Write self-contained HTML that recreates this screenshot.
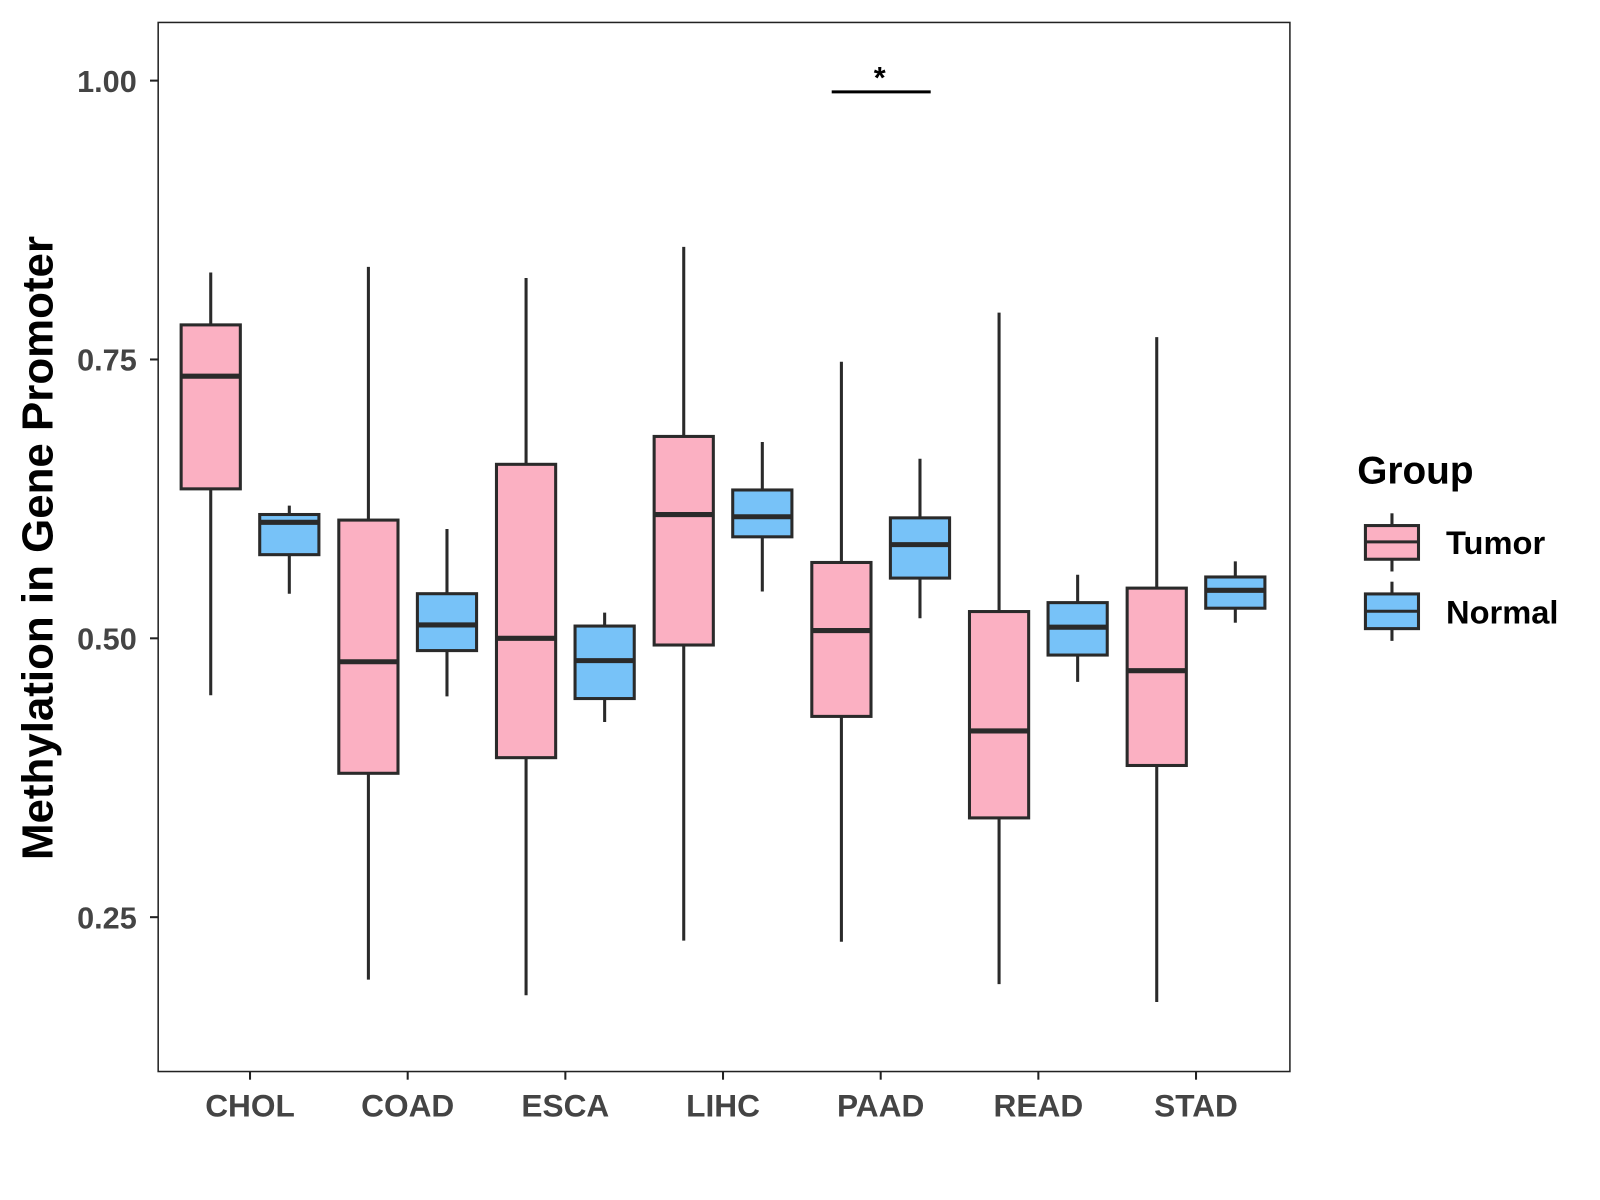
<!DOCTYPE html>
<html><head><meta charset="utf-8"><style>
html,body{margin:0;padding:0;background:#fff;width:1600px;height:1200px;overflow:hidden}
svg text{font-family:"Liberation Sans",Arial,sans-serif;font-weight:bold}
</style></head><body>
<svg id="chart" width="1600" height="1200" xmlns="http://www.w3.org/2000/svg">
<g transform="scale(1.0205)">
<rect x="155" y="22" width="1109" height="1028" fill="#fff" stroke="#222" stroke-width="1.5"/>
<g id="marks"></g>
<g id="axes"></g>
<text x="40" y="537" font-size="43" fill="#000" text-anchor="middle" transform="rotate(-90 40 537)" dominant-baseline="middle">Methylation in Gene Promoter</text>
<g>
<line x1="815" y1="90" x2="912" y2="90" stroke="#000" stroke-width="3"/>
<text x="862" y="86" font-size="30" text-anchor="middle" fill="#000">*</text>
</g>
<g>
<text x="1330" y="474" font-size="38" fill="#000">Group</text>
<g>
<line x1="1364" y1="503" x2="1364" y2="560" stroke="#2a2a2a" stroke-width="3"/>
<rect x="1338" y="515" width="52" height="33" fill="#FBB0C2" stroke="#2a2a2a" stroke-width="3"/>
<line x1="1338" y1="531" x2="1390" y2="531" stroke="#2a2a2a" stroke-width="3"/>
<text x="1417" y="543" font-size="32" fill="#000">Tumor</text></g>
<g>
<line x1="1364" y1="570" x2="1364" y2="628" stroke="#2a2a2a" stroke-width="3"/>
<rect x="1338" y="582" width="52" height="34" fill="#77C2F8" stroke="#2a2a2a" stroke-width="3"/>
<line x1="1338" y1="599" x2="1390" y2="599" stroke="#2a2a2a" stroke-width="3"/>
<text x="1417" y="611" font-size="32" fill="#000">Normal</text></g>
</g>
</g>
</svg>
<script>
const categories=["CHOL","COAD","ESCA","LIHC","PAAD","READ","STAD"];
const tumorLow=[0.449,0.194,0.180,0.229,0.228,0.190,0.174];
const tumorQ1=[0.634,0.379,0.393,0.494,0.430,0.339,0.386];
const tumorMed=[0.735,0.479,0.500,0.611,0.507,0.417,0.471];
const tumorQ3=[0.781,0.606,0.656,0.681,0.568,0.524,0.545];
const tumorHigh=[0.828,0.833,0.823,0.851,0.748,0.792,0.770];
const normalLow=[0.540,0.448,0.425,0.542,0.518,0.461,0.514];
const normalQ1=[0.575,0.489,0.446,0.591,0.554,0.485,0.527];
const normalMed=[0.604,0.512,0.480,0.609,0.584,0.510,0.543];
const normalQ3=[0.611,0.540,0.511,0.633,0.608,0.532,0.555];
const normalHigh=[0.619,0.598,0.523,0.676,0.661,0.557,0.569];
const yTicks=[0.25,0.50,0.75,1.00];
const yTickLabels=["0.25","0.50","0.75","1.00"];

const NS="http://www.w3.org/2000/svg";
function y(v){return 79+(1-v)*1093;}
function xc(i){return 245+i*154.5;}
function mk(tag,attrs,parent){const e=document.createElementNS(NS,tag);for(const k in attrs)e.setAttribute(k,attrs[k]);parent.appendChild(e);return e;}
const marks=document.getElementById('marks'),axes=document.getElementById('axes');
const stroke="#2a2a2a";
function box(i,off,lo,q1,md,q3,hi,fill,grp){
  const cx=xc(i)+off,w=58;
  const g=mk('g',{},marks);
  
  
  mk('line',{x1:cx,x2:cx,y1:y(hi),y2:y(lo),stroke:stroke,'stroke-width':3},g);
  mk('rect',{x:cx-w/2,y:y(q3),width:w,height:y(q1)-y(q3),fill:fill,stroke:stroke,'stroke-width':3},g);
  mk('line',{x1:cx-w/2,x2:cx+w/2,y1:y(md),y2:y(md),stroke:stroke,'stroke-width':5},g);
}
categories.forEach((c,i)=>{
  box(i,-38.5,tumorLow[i],tumorQ1[i],tumorMed[i],tumorQ3[i],tumorHigh[i],"#FBB0C2","tumor");
  box(i,38.5,normalLow[i],normalQ1[i],normalMed[i],normalQ3[i],normalHigh[i],"#77C2F8","normal");
  const t=mk('line',{x1:xc(i),x2:xc(i),y1:1050,y2:1058,stroke:"#222",'stroke-width':2},axes);
  
  
  const l=mk('text',{x:xc(i),y:1094,'font-size':31,'text-anchor':'middle',fill:'#444'},axes);
  l.textContent=c;
  
  
});
yTicks.forEach((v,i)=>{
  const t=mk('line',{x1:147,x2:155,y1:y(v),y2:y(v),stroke:"#222",'stroke-width':2},axes);
  
  
  const l=mk('text',{x:134,y:y(v)+11,'font-size':30,'text-anchor':'end',fill:'#444'},axes);
  l.textContent=yTickLabels[i];
  
  
});
</script>
</body></html>
